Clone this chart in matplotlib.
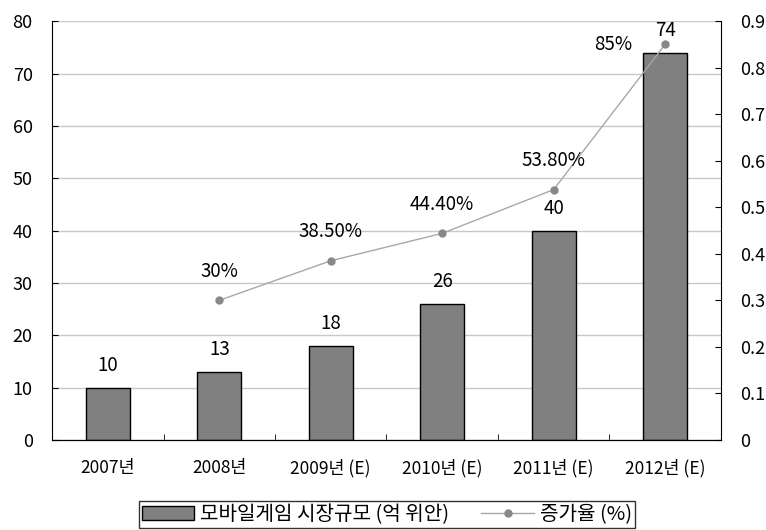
import numpy as np
import matplotlib.pyplot as plt

plt.rcParams['font.family'] = ['Noto Sans CJK KR', 'DejaVu Sans']

years = ['2007년', '2008년', '2009년 (E)', '2010년 (E)', '2011년 (E)', '2012년 (E)']
market = [10, 13, 18, 26, 40, 74]
growth = [None, 0.30, 0.385, 0.444, 0.538, 0.85]
growth_labels = ['', '30%', '38.50%', '44.40%', '53.80%', '85%']

fig = plt.figure(figsize=(7.66, 5.30), dpi=100)
ax = fig.add_axes([0.068, 0.170, 0.873, 0.790])
x = np.arange(len(years))

ax.set_axisbelow(True)
ax.yaxis.grid(True, color='#c8c8c8', lw=1)
bars = ax.bar(x, market, width=0.395, color='#808080', edgecolor='black', lw=1,
              label='모바일게임 시장규모 (억 위안)')
for xi, v in zip(x, market):
    ax.text(xi, v + 4.2, str(v), ha='center', va='center', fontsize=13.5)

ax.set_xlim(-0.5, len(years) - 0.5)
ax.set_ylim(0, 80)
ax.set_yticks(range(0, 81, 10))
ax.set_xticks(x)
ax.set_xticklabels(years, fontsize=12.5)
ax.set_xticks(np.arange(0.5, len(years) - 1, 1), minor=True)
ax.tick_params(axis='x', which='major', length=0, pad=14)
ax.tick_params(axis='x', which='minor', length=4, direction='in')
ax.tick_params(axis='y', labelsize=13, length=4, direction='in', pad=14)
ax.spines['top'].set_visible(False)
ax.spines['right'].set_visible(False)

ax2 = ax.twinx()
gx = x[1:]
gy = [g for g in growth if g is not None]
line, = ax2.plot(gx, gy, color='#a8a8a8', lw=1, marker='o', ms=5,
                 markerfacecolor='#888888', markeredgecolor='#888888',
                 label='증가율 (%)')
for xi, v, t in zip(x, growth, growth_labels):
    if v is None:
        continue
    if t == '85%':
        ax2.text(xi - 0.47, v, t, ha='center', va='center', fontsize=13.5)
    else:
        ax2.text(xi, v + 0.063, t, ha='center', va='center', fontsize=13.5)
ax2.set_ylim(0, 0.9)
ax2.set_yticks(np.arange(0, 0.91, 0.1))
ax2.set_yticklabels(['0'] + ['%.1f' % v for v in np.arange(0.1, 0.91, 0.1)])
ax2.tick_params(axis='y', labelsize=13, length=4, direction='in', pad=14)
ax2.spines['top'].set_visible(False)
ax2.spines['left'].set_visible(False)

fig.legend(handles=[bars, line], loc='lower center', bbox_to_anchor=(0.505, 0.0),
           ncol=2, frameon=True, fancybox=False, edgecolor='black',
           fontsize=14.5, handlelength=2.6, borderpad=0.15, columnspacing=1.6,
           handletextpad=0.3, borderaxespad=0.1)

fig.savefig('out.png', dpi=100)
